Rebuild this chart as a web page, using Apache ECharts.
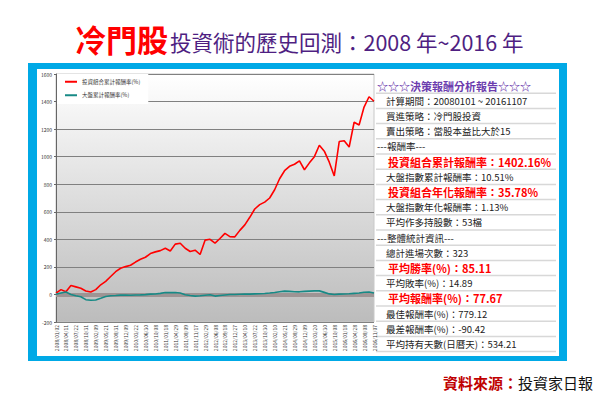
<!DOCTYPE html>
<html>
<head>
<meta charset="utf-8">
<script src="https://cdn.jsdelivr.net/npm/echarts@6/dist/echarts.min.js"></script>
<style>
  html, body { margin: 0; padding: 0; background: #fff; }
  #main { width: 600px; height: 397px; }
</style>
</head>
<body>
<div id="main"></div>
<script>
// 交易日（取樣）
const dates = [
  '2008/01/02', '2008/02/21', '2008/04/11', '2008/06/02', '2008/07/22', '2008/09/10', '2008/10/31', '2008/12/19',
  '2009/02/09', '2009/03/31', '2009/05/21', '2009/07/10', '2009/08/31', '2009/10/20', '2009/12/09', '2010/01/29',
  '2010/03/22', '2010/05/11', '2010/06/30', '2010/08/20', '2010/10/08', '2010/11/29', '2011/01/18', '2011/03/10',
  '2011/04/29', '2011/06/20', '2011/08/09', '2011/09/28', '2011/11/17', '2012/01/06', '2012/02/29', '2012/04/19',
  '2012/06/08', '2012/07/30', '2012/09/18', '2012/11/07', '2012/12/27', '2013/02/19', '2013/04/10', '2013/05/30',
  '2013/07/22', '2013/09/10', '2013/10/30', '2013/12/19', '2014/02/10', '2014/03/31', '2014/05/21', '2014/07/10',
  '2014/08/29', '2014/10/20', '2014/12/09', '2015/01/28', '2015/03/20', '2015/05/11', '2015/06/30', '2015/08/19',
  '2015/10/08', '2015/11/27', '2016/01/18', '2016/03/08', '2016/04/28', '2016/06/17', '2016/08/08', '2016/09/26',
  '2016/11/07'
]

// 投資組合累計報酬率(%)
const portfolioReturn = [
  10, 35, 20, 65, 55, 45, 25, 18, 35, 70,
  95, 130, 165, 190, 202, 212, 235, 255, 270, 297,
  309, 318, 335, 315, 365, 372, 335, 312, 321, 290,
  394, 400, 372, 406, 443, 420, 418, 465, 505, 560,
  620, 652, 670, 700, 760, 840, 898, 930, 945, 970,
  905, 955, 1000, 1083, 1040, 960, 860, 1110, 1115, 1070,
  1250, 1230, 1360, 1435, 1402.16
]

// 大盤累計報酬率(%)
const marketReturn = [
  2, 10, 18, 0, -10, -17, -38, -42, -40, -28,
  -15, -10, -8, -5, -5, -6, -4, -3, -1, 2,
  3, 8, 14, 13, 14, 10, -2, -8, -12, -10,
  -6, -2, -12, -8, -4, 0, 0, 1, 2, 2,
  4, 5, 7, 10, 14, 20, 24, 22, 20, 19,
  22, 24, 26, 26, 15, 4, 0, 2, 3, 5,
  8, 10, 16, 18, 10.51
]

const seriesNames = ['投資組合累計報酬率(%)', '大盤累計報酬率(%)']

// 報告表格內容: [文字, 類型]
const reportRows = [
  ['☆☆☆決策報酬分析報告☆☆☆', 'head'],
  ['計算期間：20080101 ~ 20161107', 'normal'],
  ['買進策略：冷門股投資', 'normal'],
  ['賣出策略：當股本益比大於15', 'normal'],
  ['---報酬率---', 'section'],
  ['投資組合累計報酬率：1402.16%', 'hot'],
  ['大盤指數累計報酬率：10.51%', 'normal'],
  ['投資組合年化報酬率：35.78%', 'hot'],
  ['大盤指數年化報酬率：1.13%', 'normal'],
  ['平均作多持股數：53檔', 'normal'],
  ['---整體統計資訊---', 'section'],
  ['總計進場次數：323', 'normal'],
  ['平均勝率(%)：85.11', 'hot'],
  ['平均敗率(%)：14.89', 'normal'],
  ['平均報酬率(%)：77.67', 'hot'],
  ['最佳報酬率(%)：779.12', 'normal'],
  ['最差報酬率(%)：-90.42', 'normal'],
  ['平均持有天數(日曆天)：534.21', 'normal']
]

const font = '"Noto Sans CJK TC", "Noto Sans CJK SC", sans-serif'
const rowStyle = {
  head: {x: 377, fill: '#6c3cae', size: 11, weight: 'bold'},
  normal: {x: 386, fill: '#222', size: 9.5, weight: 'normal'},
  section: {x: 377, fill: '#222', size: 9.5, weight: 'normal'},
  hot: {x: 388, fill: '#ff0000', size: 11, weight: 'bold'}
}

const rowTop = 78
const rowH = 15.2
const graphics = [
  {type: 'rect', z: -10, shape: {x: 28, y: 63, width: 539, height: 298}, style: {fill: '#00a9e6'}},
  {type: 'rect', z: -9, shape: {x: 37, y: 69, width: 522, height: 287}, style: {fill: '#ffffff'}}
]
reportRows.forEach((row, i) => {
  const st = rowStyle[row[1]]
  const yc = rowTop + rowH * i + rowH / 2
  graphics.push({
    type: 'text',
    style: {
      text: row[0], x: st.x, y: yc, fill: st.fill,
      font: st.weight + ' ' + st.size + 'px ' + font,
      textVerticalAlign: 'middle'
    }
  })
  graphics.push({
    type: 'line',
    shape: {x1: 376, y1: yc + rowH / 2, x2: 556, y2: yc + rowH / 2},
    style: {stroke: '#d8d8d8', lineWidth: 1.5}
  })
})

const myChart = echarts.init(document.getElementById('main'), null, {renderer: 'svg'})
myChart.setOption({
  animation: false,
  textStyle: {fontFamily: font},
  title: [
    {
      text: '{a|冷門股}{b|投資術的歷史回測：2008 年~2016 年}',
      left: 70,
      top: 18,
      textStyle: {
        rich: {
          a: {fontSize: 31, color: '#ff0000', fontWeight: 'bold', fontFamily: font, verticalAlign: 'bottom'},
          b: {fontSize: 21.5, color: '#4f1f82', fontWeight: 'normal', fontFamily: font, verticalAlign: 'bottom', padding: [0, 0, 2, 2]}
        }
      }
    },
    {
      text: '{a|資料來源：}{b|投資家日報}',
      left: 438,
      top: 370,
      textStyle: {
        rich: {
          a: {fontSize: 15, color: '#c00000', fontWeight: 'bold', fontFamily: font},
          b: {fontSize: 15, color: '#111', fontWeight: 'normal', fontFamily: font}
        }
      }
    }
  ],
  legend: {
    orient: 'vertical',
    left: 57,
    top: 74,
    padding: [5, 8, 6, 8],
    itemGap: 8,
    itemWidth: 12,
    itemHeight: 2,
    icon: 'rect',
    backgroundColor: '#ffffff',
    textStyle: {fontSize: 5.5, color: '#333'},
    data: seriesNames
  },
  grid: {
    left: 56,
    right: 226,
    top: 74,
    bottom: 75,
    show: true,
    borderColor: '#c8c8c8',
    borderWidth: 1,
    backgroundColor: new echarts.graphic.LinearGradient(0, 0, 0, 1, [
      {offset: 0, color: '#ffffff'},
      {offset: 1, color: '#bcbcbc'}
    ])
  },
  xAxis: {
    type: 'category',
    boundaryGap: false,
    data: dates,
    axisLine: {show: false},
    axisTick: {show: false},
    axisLabel: {rotate: 90, fontSize: 5, color: '#333', interval: 1, margin: 3}
  },
  yAxis: {
    type: 'value',
    min: -200,
    max: 1600,
    interval: 200,
    axisLine: {show: true, lineStyle: {color: '#666'}},
    axisTick: {show: true, length: 2, lineStyle: {color: '#666'}},
    axisLabel: {fontSize: 5, color: '#333', margin: 4, formatter: v => String(v)},
    splitLine: {lineStyle: {color: '#808080', width: 1}}
  },
  series: [
    {
      name: seriesNames[0],
      type: 'line',
      data: portfolioReturn,
      symbol: 'none',
      z: 4,
      lineStyle: {color: '#ff0000', width: 1.6},
      itemStyle: {color: '#ff0000'},
      markLine: {
        silent: true,
        symbol: 'none',
        label: {show: false},
        lineStyle: {color: '#9e9494', width: 4, type: 'solid'},
        data: [{yAxis: 0}]
      }
    },
    {
      name: seriesNames[1],
      type: 'line',
      data: marketReturn,
      symbol: 'none',
      z: 5,
      lineStyle: {color: '#178a86', width: 1.6},
      itemStyle: {color: '#178a86'}
    }
  ],
  graphic: graphics
})
</script>
</body>
</html>
